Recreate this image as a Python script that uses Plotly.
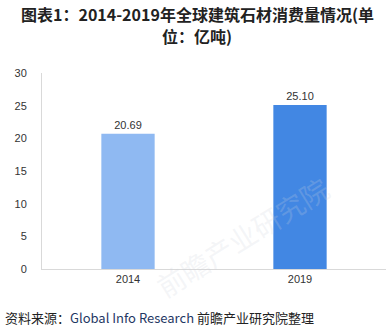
import plotly.graph_objects as go

years = ["2014", "2019"]
consumption = [20.69, 25.10]
bar_colors = ["#8FB9F2", "#4287E3"]
y_ticks = [0, 5, 10, 15, 20, 25, 30]

title_lines = ["图表1：2014-2019年全球建筑石材消费量情况(单", "位：亿吨)"]
source_text = "资料来源：<span style='color:#1F3864'>Global Info Research</span> 前瞻产业研究院整理"

fig = go.Figure()
fig.add_trace(go.Bar(
    x=years,
    y=consumption,
    marker=dict(color=bar_colors, line=dict(width=0)),
    width=0.31,
    text=[f"{v:.2f}" for v in consumption],
    textposition="outside",
    textfont=dict(family="Liberation Sans, Arial", size=11, color="#333333"),
    cliponaxis=False,
))

annotations = [
    # faint watermark running diagonally under the bars
    dict(
        text="前瞻产业研究院",
        xref="paper", yref="paper", x=0.58, y=-0.2,
        showarrow=False, textangle=-32,
        font=dict(family="Noto Sans CJK SC", size=28, color="rgba(205,210,222,0.22)"),
    ),
    dict(
        text=source_text,
        xref="paper", yref="paper", x=0, y=0,
        xanchor="left", yanchor="bottom",
        xshift=-39, yshift=-60,
        showarrow=False,
        font=dict(family="Noto Sans CJK SC, Liberation Sans", size=13, color="#222222"),
    ),
]
# two-line bold title, placed line by line
for line, shift in zip(title_lines, [59, 37]):
    annotations.append(dict(
        text="<b>" + line + "</b>",
        xref="paper", yref="paper", x=0.5, y=1,
        xanchor="center", yanchor="middle",
        xshift=-17, yshift=shift,
        borderpad=0,
        showarrow=False,
        font=dict(family="Noto Sans CJK SC", size=16, color="#222222"),
    ))

fig.update_layout(
    width=392,
    height=331,
    margin=dict(l=42, r=6, t=73, b=62),
    paper_bgcolor="white",
    plot_bgcolor="white",
    showlegend=False,
    font=dict(family="Liberation Sans, Arial", size=11, color="#333333"),
    xaxis=dict(
        type="category",
        showline=True,
        linecolor="#D9D9D9",
        linewidth=1,
        ticks="",
        tickfont=dict(size=11, color="#333333"),
        showgrid=False,
    ),
    yaxis=dict(
        range=[0, 30],
        tickvals=y_ticks,
        showline=True,
        linecolor="#D9D9D9",
        linewidth=1,
        showgrid=False,
        zeroline=False,
        ticks="",
        ticklabelstandoff=12,
        tickfont=dict(size=11, color="#333333"),
    ),
    annotations=annotations,
)

fig.write_html("out.html")
